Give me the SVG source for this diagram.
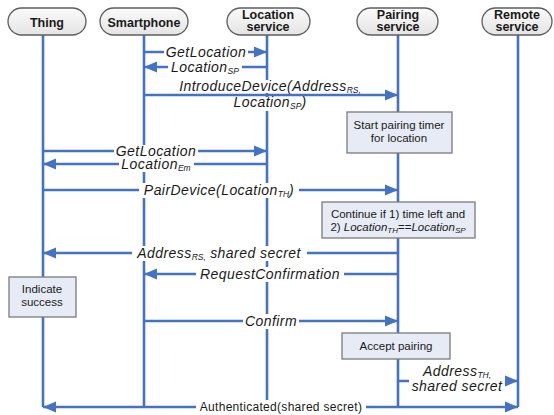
<svg xmlns="http://www.w3.org/2000/svg" width="554" height="415" viewBox="0 0 554 415">
<defs>
<linearGradient id="pillg" x1="0" y1="0" x2="0" y2="1">
<stop offset="0" stop-color="#FAFAFA"/>
<stop offset="1" stop-color="#E4E4E4"/>
</linearGradient>
<marker id="ah" markerUnits="userSpaceOnUse" markerWidth="14" markerHeight="12" refX="13" refY="6" orient="auto-start-reverse">
<path d="M0,0.5 L13,6 L0,11.5 z" fill="#4472C4"/>
</marker>
<style>
.pill{fill:url(#pillg);stroke:#5E5E5E;stroke-width:1.3}
.hd{font-family:"Liberation Sans",Arial,sans-serif;font-weight:bold;font-size:12.5px;fill:#1A1A1A;text-anchor:middle}
.life{stroke:#4472C4;stroke-width:2.6;fill:none}
.msg{stroke:#4472C4;stroke-width:2.6;fill:none}
.arr{marker-end:url(#ah)}
.both{marker-start:url(#ah);marker-end:url(#ah)}
.bg{fill:#FFFFFF;stroke:none}
.ml{font-family:"Liberation Sans",Arial,sans-serif;font-style:italic;font-size:14px;letter-spacing:0.45px;fill:#1A1A1A;text-anchor:middle}
.sub{font-size:8.5px;letter-spacing:0}
.pl{font-family:"Liberation Sans",Arial,sans-serif;font-size:12px;letter-spacing:0.3px;fill:#1A1A1A;text-anchor:middle}
.box{fill:#E6EBF5;stroke:#7A7A7A;stroke-width:1.3}
.bt{font-family:"Liberation Sans",Arial,sans-serif;font-size:11.5px;fill:#1A1A1A;text-anchor:middle}
</style>
</defs>
<rect width="554" height="415" fill="#FFFFFF"/>

<g id="thing">
<line class="life" x1="43" y1="35" x2="43" y2="407"/>
<rect class="pill" x="8" y="8" width="78" height="27" rx="13.5"/>
<text class="hd" x="47" y="27">Thing</text>
</g>
<g id="smartphone">
<line class="life" x1="144" y1="35" x2="144" y2="407"/>
<rect class="pill" x="100" y="8" width="88" height="27" rx="13.5"/>
<text class="hd" x="144" y="27">Smartphone</text>
</g>
<g id="location-service">
<line class="life" x1="267" y1="35" x2="267" y2="400"/>
<rect class="pill" x="227" y="8" width="83" height="27" rx="13.5"/>
<text class="hd" x="268" y="19">Location</text>
<text class="hd" x="268" y="31">service</text>
</g>
<g id="pairing-service">
<line class="life" x1="398" y1="35" x2="398" y2="407"/>
<rect class="pill" x="357" y="8" width="81" height="27" rx="13.5"/>
<text class="hd" x="398" y="19">Pairing</text>
<text class="hd" x="398" y="31">service</text>
</g>
<g id="remote-service">
<line class="life" x1="518" y1="35" x2="518" y2="407"/>
<rect class="pill" x="482" y="8" width="70" height="27" rx="13.5"/>
<text class="hd" x="517" y="19">Remote</text>
<text class="hd" x="517" y="31">service</text>
</g>

<g id="connectors">
<path class="msg arr" d="M144,52 H267"/>
<path class="msg arr" d="M267,67 H144"/>
<path class="msg arr" d="M144,95 H398"/>
<path class="msg arr" d="M43,151 H267"/>
<path class="msg arr" d="M267,164 H43"/>
<path class="msg arr" d="M43,190 H398"/>
<path class="msg arr" d="M398,253 H43"/>
<path class="msg arr" d="M398,274 H144"/>
<path class="msg arr" d="M144,321 H398"/>
<path class="msg arr" d="M398,381 H518"/>
<path class="msg both" d="M43,407 H518"/>

<rect class="bg" x="164" y="46" width="84" height="13"/>
<text class="ml" x="206" y="57">GetLocation</text>
<rect class="bg" x="168" y="61" width="74" height="13"/>
<text class="ml" x="205" y="72">Location<tspan class="sub" dy="2">SP</tspan></text>
<rect class="bg" x="176" y="80" width="190" height="13"/>
<text class="ml" x="270" y="91">IntroduceDevice(Address<tspan class="sub" dy="2">RS,</tspan></text>
<rect class="bg" x="231" y="97" width="79" height="14"/>
<text class="ml" x="270" y="107">Location<tspan class="sub" dy="2">SP</tspan><tspan dy="-2">)</tspan></text>
<rect class="bg" x="114" y="145" width="84" height="13"/>
<text class="ml" x="156" y="156">GetLocation</text>
<rect class="bg" x="119" y="158" width="75" height="14"/>
<text class="ml" x="156" y="169">Location<tspan class="sub" dy="2">Em</tspan></text>
<rect class="bg" x="139" y="183" width="160" height="15"/>
<text class="ml" x="219" y="195">PairDevice(Location<tspan class="sub" dy="2">TH</tspan><tspan dy="-2">)</tspan></text>
<rect class="bg" x="132" y="246" width="175" height="15"/>
<text class="ml" x="219" y="258">Address<tspan class="sub" dy="2">RS,</tspan><tspan dy="-2"> shared secret</tspan></text>
<rect class="bg" x="196" y="267" width="148" height="15"/>
<text class="ml" x="270" y="279">RequestConfirmation</text>
<rect class="bg" x="243" y="314" width="56" height="15"/>
<text class="ml" x="271" y="326">Confirm</text>
<rect class="bg" x="409" y="364" width="96" height="31"/>
<text class="ml" x="457" y="376">Address<tspan class="sub" dy="2">TH,</tspan></text>
<text class="ml" x="457" y="391">shared secret</text>
<rect class="bg" x="196" y="400" width="170" height="13"/>
<text class="pl" x="281" y="411">Authenticated(shared secret)</text>
</g>

<g id="start-pairing-timer">
<rect class="box" x="347" y="112" width="105" height="41"/>
<text class="bt" x="399" y="129">Start pairing timer</text>
<text class="bt" x="399" y="142">for location</text>
</g>
<g id="continue-check">
<rect class="box" x="322" y="202" width="153" height="36"/>
<text class="bt" x="398" y="218">Continue if 1) time left and</text>
<text class="bt" x="398" y="231">2) <tspan font-style="italic">Location</tspan><tspan font-style="italic" font-size="8px" dy="2">TH</tspan><tspan dy="-2">==</tspan><tspan font-style="italic">Location</tspan><tspan font-style="italic" font-size="8px" dy="2">SP</tspan></text>
</g>
<g id="indicate-success">
<rect class="box" x="9" y="277" width="67" height="40"/>
<text class="bt" x="42" y="293">Indicate</text>
<text class="bt" x="42" y="306">success</text>
</g>
<g id="accept-pairing">
<rect class="box" x="342" y="333" width="108" height="26"/>
<text class="bt" x="396" y="350">Accept pairing</text>
</g>
</svg>
